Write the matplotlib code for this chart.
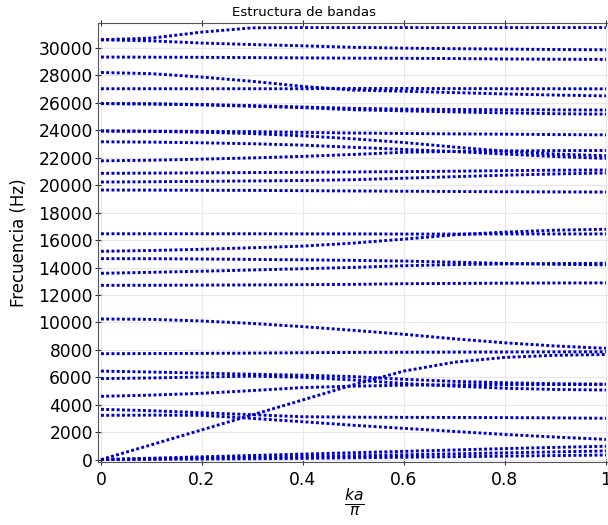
import matplotlib
matplotlib.use("Agg")
import matplotlib.pyplot as plt

# wave number ka/pi
k = [0.0, 0.1, 0.2, 0.3, 0.4, 0.5, 0.6, 0.7, 0.8, 0.9, 1.0]

# band frequencies (Hz), one list per band
band_a = [30600, 30720, 31160, 31470, 31490, 31490, 31490, 31490, 31490, 31490, 31490]
band_b = [30600, 30520, 30360, 30250, 30160, 30050, 29990, 29950, 29920, 29890, 29870]
band_c = [29340, 29330, 29320, 29300, 29280, 29260, 29250, 29230, 29200, 29180, 29170]
band_d = [28215, 28130, 27880, 27570, 27200, 26930, 26850, 26750, 26650, 26570, 26510]
band_e = [27030, 27030, 27030, 27030, 27030, 27050, 27050, 27040, 27030, 27030, 27020]
band_f1 = [25950, 25930, 25880, 25800, 25700, 25600, 25550, 25520, 25500, 25490, 25480]
band_f2 = [25950, 25920, 25850, 25750, 25650, 25500, 25420, 25340, 25270, 25210, 25180]
band_g1 = [23950, 23940, 23920, 23900, 23850, 23800, 23770, 23740, 23720, 23690, 23670]
band_g2 = [23950, 23920, 23860, 23760, 23600, 23380, 23110, 22780, 22480, 22270, 22150]
band_h = [23165, 23140, 23090, 23020, 22920, 22760, 22610, 22450, 22270, 22090, 21950]
band_i = [21774, 21820, 21900, 21990, 22100, 22240, 22400, 22460, 22500, 22520, 22530]
band_j = [20863, 20880, 20900, 20920, 20940, 20964, 20990, 21020, 21060, 21090, 21110]
band_k = [20230, 20250, 20280, 20310, 20340, 20400, 20509, 20620, 20730, 20820, 20890]
band_l = [19648, 19640, 19630, 19620, 19600, 19580, 19560, 19540, 19520, 19510, 19500]
band_m = [16460, 16460, 16460, 16460, 16455, 16450, 16440, 16440, 16445, 16448, 16450]
band_n = [15182, 15240, 15330, 15440, 15560, 15780, 16070, 16380, 16580, 16720, 16790]
band_o = [14647, 14640, 14620, 14590, 14560, 14520, 14470, 14390, 14300, 14230, 14190]
band_p = [13577, 13650, 13730, 13820, 13910, 14010, 14130, 14210, 14260, 14290, 14310]
band_q = [12700, 12705, 12715, 12730, 12750, 12770, 12820, 12840, 12860, 12870, 12880]
band_r = [10248, 10220, 10102, 9920, 9688, 9420, 9132, 8800, 8510, 8280, 8110]
band_s = [7717, 7730, 7741, 7760, 7790, 7810, 7819, 7830, 7840, 7850, 7860]
band_t = [6450, 6380, 6300, 6220, 6150, 6050, 5850, 5700, 5600, 5530, 5500]
band_u = [5900, 5950, 6020, 6080, 6000, 5800, 5550, 5350, 5200, 5110, 5070]
band_v = [4610, 4700, 4830, 5030, 5250, 5350, 5420, 5450, 5460, 5470, 5470]
band_w = [3662, 3560, 3414, 3270, 3122, 3090, 3078, 3070, 3060, 3040, 3010]
band_x = [3224, 3240, 3224, 3000, 2757, 2500, 2276, 2050, 1830, 1640, 1473]
band_z = [0, 1080, 2170, 3260, 4350, 5450, 6450, 7100, 7450, 7600, 7660]
band_y1 = [0, 100, 200, 300, 400, 500, 600, 700, 800, 890, 970]
band_y2 = [0, 50, 100, 160, 220, 280, 350, 420, 490, 560, 630]
band_y3 = [0, 20, 40, 60, 90, 130, 170, 210, 250, 290, 330]

bands = [band_a, band_b, band_c, band_d, band_e, band_f1, band_f2, band_g1, band_g2,
         band_h, band_i, band_j, band_k, band_l, band_m, band_n, band_o, band_p,
         band_q, band_r, band_s, band_t, band_u, band_v, band_w, band_x, band_z,
         band_y1, band_y2, band_y3]

y_ticks = list(range(0, 30001, 2000))
x_ticks = [0, 0.2, 0.4, 0.6, 0.8, 1.0]
x_labels = ['0', '0.2', '0.4', '0.6', '0.8', '1']

fig = plt.figure(figsize=(6.08, 5.25), dpi=100)
ax = fig.add_axes([0.1607, 0.1194, 0.845, 0.8362])

for b in bands:
    ax.plot(k, b, color='#0000cc', lw=2.1, ls=(0, (1, 0.8)), zorder=3)

ax.set_xlim(-0.0065, 1.011)
ax.set_ylim(-200, 31800)
ax.set_xticks(x_ticks)
ax.set_xticklabels(x_labels)
ax.set_yticks(y_ticks)
ax.grid(True, color='#e8e8e8', lw=0.8)
ax.tick_params(direction='inout', length=4, width=0.8, labelsize=12.3, pad=1.5,
               top=True, colors='#333333', labelcolor='black')
ax.tick_params(axis='x', pad=4)
for sp in ax.spines.values():
    sp.set_color('#555555')
    sp.set_linewidth(0.8)

ax.set_ylabel('Frecuencia (Hz)', fontsize=12)
ax.yaxis.set_label_coords(-0.135, 0.5)
ax.set_xlabel(r'$\frac{ka}{\pi}$', fontsize=16, labelpad=-1)
fig.text(0.5, 0.977, 'Estructura de bandas', ha='center', va='center', fontsize=9.6)

fig.savefig('out.png', dpi=100)
